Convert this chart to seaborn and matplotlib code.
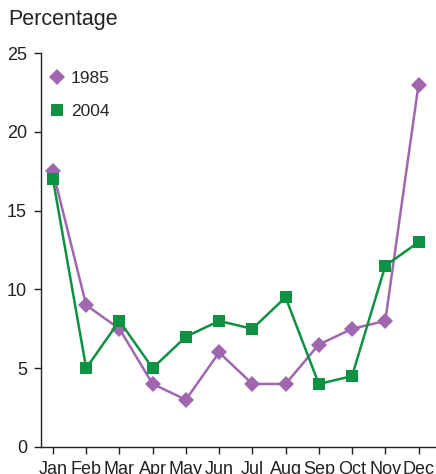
import matplotlib
matplotlib.use('Agg')
import matplotlib.pyplot as plt
from matplotlib.lines import Line2D
import seaborn as sns
import pandas as pd

months = ['Jan', 'Feb', 'Mar', 'Apr', 'May', 'Jun', 'Jul', 'Aug', 'Sep', 'Oct', 'Nov', 'Dec']
pct_1985 = [17.5, 9, 7.5, 4, 3, 6, 4, 4, 6.5, 7.5, 8, 23]
pct_2004 = [17, 5, 8, 5, 7, 8, 7.5, 9.5, 4, 4.5, 11.5, 13]
y_ticks = [0, 5, 10, 15, 20, 25]

purple = '#a066b0'
green = '#0d9142'

sns.set_style('ticks')
plt.rcParams['font.family'] = ['Liberation Sans', 'DejaVu Sans']

df = pd.DataFrame({'month': months, '1985': pct_1985, '2004': pct_2004})
df['x'] = range(len(months))

fig = plt.figure(figsize=(4.36, 4.74), dpi=100)
ax = fig.add_axes([0.094, 0.057, 0.904, 0.831])

sns.lineplot(data=df, x='x', y='1985', ax=ax, color=purple, marker='D',
             markersize=8, markeredgewidth=0, linewidth=1.8)
sns.lineplot(data=df, x='x', y='2004', ax=ax, color=green, marker='s',
             markersize=8.5, markeredgewidth=0, linewidth=1.8)

ax.set_xlim(-0.36, 11.5)
ax.set_ylim(0, 25)
ax.set_xticks(range(len(months)))
ax.set_xticklabels(months)
ax.set_yticks(y_ticks)
ax.set_xlabel('')
ax.set_ylabel('')
# month labels run off the bottom edge, as in the original
ax.tick_params(axis='both', labelsize=13, colors='#222222', length=5, width=1, pad=5)
for s in ['top', 'right']:
    ax.spines[s].set_visible(False)
for s in ['left', 'bottom']:
    ax.spines[s].set_color('#222222')
    ax.spines[s].set_linewidth(1)

handles = [Line2D([], [], color=purple, marker='D', markersize=8, markeredgewidth=0, linestyle='none'),
           Line2D([], [], color=green, marker='s', markersize=8.5, markeredgewidth=0, linestyle='none')]
ax.legend(handles, ['1985', '2004'], loc='upper left', frameon=False, fontsize=12.5,
          handlelength=1.0, handletextpad=0.3, labelspacing=1.0,
          bbox_to_anchor=(-0.012, 0.985), borderaxespad=0.3)

fig.text(0.018, 0.958, 'Percentage', fontsize=15.5, color='#222222', va='center', ha='left')

fig.savefig('out.png', dpi=100)
